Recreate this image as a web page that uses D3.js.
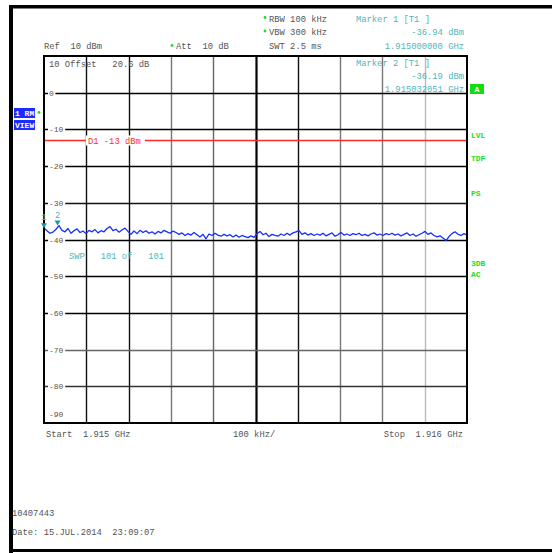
<!DOCTYPE html>
<html><head><meta charset="utf-8">
<script src="https://cdn.jsdelivr.net/npm/d3@7"></script>
<style>
body{margin:0;background:#fff;}
svg{display:block;}
text{font-family:"Liberation Mono","DejaVu Sans Mono",monospace;}
</style></head>
<body>
<svg id="c" width="552" height="553"></svg>
<script>
// ---- data ----
const startHz = 1.915e9, stopHz = 1.916e9;
const refLevel = 10, bottomLevel = -90;
const yTicks = [0, -10, -20, -30, -40, -50, -60, -70, -80];
const displayLine = -13;
const traceDbm = [
-36.9,-37.6,-38.3,-38.0,-37.2,-36.2,-37.5,-37.9,-37.0,-38.3,-37.6,-37.1,-38.1,-37.7,-38.4,-37.5,-37.9,-37.3,-38.2,-37.6,
-37.9,-37.0,-36.5,-37.6,-37.2,-38.0,-37.4,-36.9,-37.8,-38.6,-37.7,-38.4,-37.5,-38.1,-37.6,-38.3,-37.9,-38.5,-37.8,-38.2,
-37.5,-37.9,-38.3,-37.7,-38.1,-38.6,-38.2,-38.9,-38.4,-38.8,-38.1,-38.7,-39.3,-38.6,-39.8,-38.5,-38.9,-38.3,-38.8,-39.1,
-38.6,-39.0,-38.7,-39.3,-38.8,-39.4,-38.9,-39.2,-39.5,-39.0,-39.4,-38.4,-37.8,-38.7,-38.3,-39.2,-38.6,-38.9,-39.1,-38.5,
-38.9,-38.3,-38.8,-38.2,-37.9,-37.6,-38.6,-38.2,-38.8,-38.4,-38.9,-38.5,-38.8,-38.3,-39.0,-38.6,-38.2,-39.1,-38.7,-38.1,
-38.8,-38.5,-38.9,-38.4,-38.7,-38.3,-38.9,-38.6,-39.0,-38.5,-38.2,-38.8,-38.5,-38.9,-38.4,-38.7,-38.3,-38.8,-38.5,-39.0,
-38.6,-38.2,-38.9,-38.5,-39.1,-38.7,-38.3,-37.8,-38.6,-38.2,-38.9,-39.3,-39.0,-39.6,-40.3,-39.2,-38.4,-37.9,-38.6,-38.9,
-38.4,-38.8];
const markers = [
  {id:"1", hz:1.915000000e9, dbm:-36.94},
  {id:"2", hz:1.915032051e9, dbm:-36.19}
];
const headerLeft = ["Ref  10 dBm"];
const markerText = [
  ["Marker 1 [T1 ]", "-36.94 dBm", "1.915000000 GHz"],
  ["Marker 2 [T1 ]", "-36.19 dBm", "1.915032051 GHz"]
];
const sideLabels = [["LVL",135],["TDF",158],["PS",193],["3DB",263],["AC",274]];

// ---- chart ----
const svg = d3.select("#c");
const X0=44, X1=467, Y0=56, Y1=423;
const x = d3.scaleLinear().domain([startHz, stopHz]).range([X0, X1]);
const y = d3.scaleLinear().domain([bottomLevel, refLevel]).range([Y1, Y0]);
const xi = d3.scaleLinear().domain([0, traceDbm.length-1]).range([startHz, stopHz]);

const gray="#555", teal="#4fb5bd", green="#22dd22", red="#ff2a2a", blue="#1530ff";

// outer frame
svg.append("rect").attr("x",9).attr("y",5).attr("width",543).attr("height",3.5).attr("fill","#000");
svg.append("rect").attr("x",9).attr("y",5).attr("width",4).attr("height",548).attr("fill","#000");
svg.append("rect").attr("x",9).attr("y",549).attr("width",543).attr("height",3).attr("fill","#000");

// vertical grid
const vStyles = ["#000","#111","#111","#777","#666","#000","#111","#777","#777","#bbb","#000"];
const vTicks = d3.range(0,11).map(i=>startHz + i*(stopHz-startHz)/10);
svg.append("g").selectAll("line").data(vTicks.slice(1,10)).join("line")
  .attr("x1",d=>Math.round(x(d))+0.5).attr("x2",d=>Math.round(x(d))+0.5)
  .attr("y1",Y0).attr("y2",Y1)
  .attr("stroke",(d,i)=>vStyles[i+1]).attr("stroke-width",(d,i)=>i===4?2.2:1.4);

// horizontal grid
const hStyles = {"0":"#000","-10":"#000","-20":"#000","-30":"#111","-40":"#000","-50":"#000","-60":"#000","-70":"#666","-80":"#333"};
const hg = svg.append("g");
hg.selectAll("line").data(yTicks).join("line")
  .attr("x1",X0).attr("x2",X1)
  .attr("y1",d=>Math.round(y(d))+0.5).attr("y2",d=>Math.round(y(d))+0.5)
  .attr("stroke",d=>hStyles[String(d)]).attr("stroke-width",1.4);
// tick labels with white background
const tl = svg.append("g");
yTicks.concat([bottomLevel]).forEach(v=>{
  const lab = v===0 ? "0" : "-"+Math.abs(v);
  const yy = v===bottomLevel ? Y1-9.5 : y(v);
  const w = lab.length*4.9;
  if(v!==bottomLevel) tl.append("rect").attr("x",48).attr("y",yy-4).attr("width",w+2.5).attr("height",8).attr("fill","#fff");
  tl.append("text").attr("x",49).attr("y",yy+3).attr("font-size",8).attr("fill",gray).text(lab);
});

// display line D1
const yD = Math.round(y(displayLine))+0.5;
svg.append("line").attr("x1",X0).attr("x2",X1).attr("y1",yD).attr("y2",yD).attr("stroke",red).attr("stroke-width",1.3);
svg.append("rect").attr("x",86).attr("y",yD-5).attr("width",59).attr("height",10).attr("fill","#fff");
svg.append("text").attr("x",88).attr("y",yD+3).attr("font-size",8.8).attr("fill",red).text("D1 -13 dBm");

// trace
const line = d3.line().x((d,i)=>x(xi(i))).y(d=>y(d));
svg.append("path").datum(traceDbm).attr("d",line).attr("fill","none")
  .attr("stroke",blue).attr("stroke-width",1.3).attr("stroke-linejoin","round");

// plot border
svg.append("rect").attr("x",X0).attr("y",Y0).attr("width",X1-X0).attr("height",Y1-Y0)
  .attr("fill","none").attr("stroke","#000").attr("stroke-width",2);

// markers
markers.forEach((m,i)=>{
  const mx=x(m.hz), my=y(m.dbm);
  svg.append("path").attr("d",`M${mx-3},${my-5}L${mx+3},${my-5}L${mx},${my}Z`).attr("fill","#1a9a9a");
  svg.append("text").attr("x",mx).attr("y",my-8).attr("text-anchor","middle").attr("font-size",8.8).attr("fill",teal).text(m.id);
});

// top header
const fs = 8.8;
function t(txt,xx,yy,col,anchor){ return svg.append("text").attr("x",xx).attr("y",yy).attr("font-size",fs).attr("fill",col).attr("text-anchor",anchor||"start").attr("xml:space","preserve").text(txt); }
function star(xx,yy){ svg.append("circle").attr("cx",xx).attr("cy",yy).attr("r",1.4).attr("fill",green); }
t(headerLeft[0],44,49,gray);
star(172,45.5); t("Att  10 dB",176,49,gray);
star(265,17.5); t("RBW 100 kHz",269,22,gray);
star(265,31); t("VBW 300 kHz",269,35,gray);
t("SWT 2.5 ms",269,49,gray);
t(markerText[0][0],356,22,teal);
t(markerText[0][1],464,35,teal,"end");
t(markerText[0][2],464,49,teal,"end");
t(markerText[1][0],356,66,teal);
t(markerText[1][1],464,79,teal,"end");
t(markerText[1][2],464,92,teal,"end");
t("10 Offset   20.6 dB",49,67,gray);

// right side indicators
svg.append("rect").attr("x",470).attr("y",84).attr("width",14).attr("height",10).attr("fill","#11dd11");
svg.append("text").attr("x",477).attr("y",92).attr("text-anchor","middle").attr("font-size",8).attr("font-weight","bold").attr("fill","#fff").text("A");
sideLabels.forEach(s=>svg.append("text").attr("x",471).attr("y",s[1]+3).attr("font-size",8).attr("font-weight","bold").attr("fill",green).text(s[0]));

// left indicators
svg.append("rect").attr("x",14).attr("y",108).attr("width",21).attr("height",10).attr("fill","#1a2cff");
svg.append("text").attr("x",15).attr("y",116).attr("font-size",8).attr("font-weight","bold").attr("fill","#fff").attr("xml:space","preserve").text("1 RM");
svg.append("rect").attr("x",14).attr("y",120).attr("width",21).attr("height",10).attr("fill","#1a2cff");
svg.append("text").attr("x",15).attr("y",128).attr("font-size",8).attr("font-weight","bold").attr("fill","#fff").text("VIEW");
star(39,112.5);

// sweep
t("SWP   101 of   101",69,259,teal);

// bottom axis text
t("Start  1.915 GHz",46,437,gray);
t("100 kHz/",233,437,gray);
t("Stop  1.916 GHz",463,437,gray,"end");

// footer
t("10407443",12,516,gray);
t("Date: 15.JUL.2014  23:09:07",12,535,gray);
</script>
</body></html>
